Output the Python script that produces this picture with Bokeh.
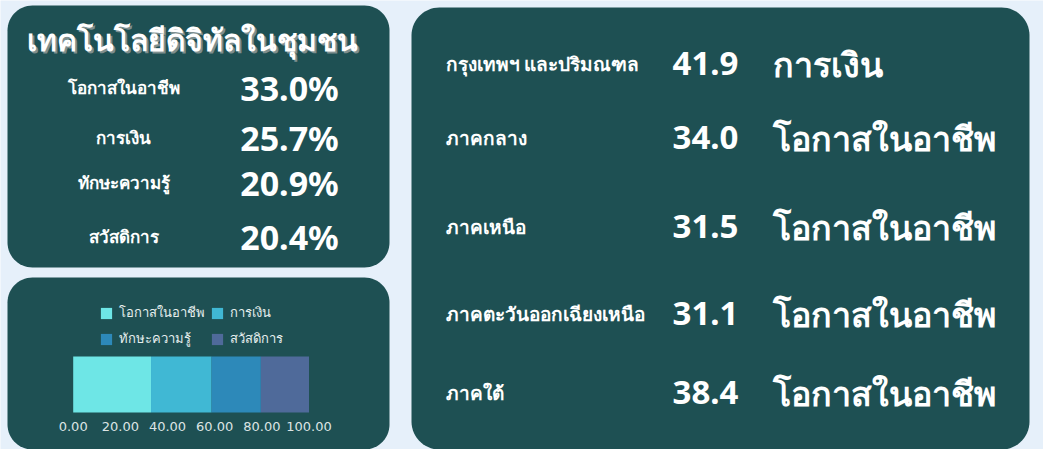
import numpy as np
from bokeh.plotting import figure
from bokeh.models import (Range1d, LinearAxis, FixedTicker, NumeralTickFormatter,
                          ColumnDataSource, Legend, LegendItem)
from bokeh.core.properties import value
from bokeh.embed import file_html
from bokeh.resources import INLINE

# ---------------- data ----------------
title_text = "เทคโนโลยีดิจิทัลในชุมชน"
categories = ["โอกาสในอาชีพ", "การเงิน", "ทักษะความรู้", "สวัสดิการ"]
shares = [33.0, 25.7, 20.9, 20.4]
axis_ticks = [0, 20, 40, 60, 80, 100]

regions = ["กรุงเทพฯ และปริมณฑล", "ภาคกลาง", "ภาคเหนือ", "ภาคตะวันออกเฉียงเหนือ", "ภาคใต้"]
region_values = [41.9, 34.0, 31.5, 31.1, 38.4]
region_top = ["การเงิน", "โอกาสในอาชีพ", "โอกาสในอาชีพ", "โอกาสในอาชีพ", "โอกาสในอาชีพ"]

# ---------------- styles / layout ----------------
BG = "#E6F0FA"
PANEL = "#1E5053"
WHITE = "#FFFFFF"
bar_colors = ["#6EE6E6", "#40B8D4", "#2D89B9", "#4F6A9A"]
FONT = "Noto Sans"

rows_a = [95, 145, 190, 244]
rows_c = [71, 145, 234, 321, 400]

p = figure(width=1043, height=449, x_range=Range1d(8, 1051), y_range=Range1d(457, 8),
           x_axis_type=None, y_axis_type=None, toolbar_location=None,
           output_backend="svg", min_border=0, background_fill_color=BG,
           border_fill_color=BG, outline_line_color=None)


def rounded(x0, y0, x1, y1, r, n=16):
    xs, ys = [], []
    for cx, cy, a0 in [(x0 + r, y0 + r, 180), (x1 - r, y0 + r, 270),
                       (x1 - r, y1 - r, 0), (x0 + r, y1 - r, 90)]:
        a = np.radians(np.linspace(a0, a0 + 90, n))
        xs += list(cx + r * np.cos(a))
        ys += list(cy + r * np.sin(a))
    return xs, ys


panels = [rounded(15, 13, 397, 275, 25), rounded(15, 285, 397, 457, 25),
          rounded(419, 15, 1037, 457, 28)]
p.patches([q[0] for q in panels], [q[1] for q in panels], fill_color=PANEL, line_color=None)

# ---------------- panel A ----------------
p.text([202], [49], text=[title_text], text_color="#7F8F8F", text_font=value(FONT),
       text_font_style="bold", text_font_size="30px", text_align="center", text_baseline="middle")
p.text([200], [47], text=[title_text], text_color=WHITE, text_font=value(FONT),
       text_font_style="bold", text_font_size="30px", text_align="center", text_baseline="middle")

src_a = ColumnDataSource(dict(y=rows_a, lab=categories,
                              val=[f"{v:.1f}%" for v in shares]))
p.text(x=131, y="y", text="lab", source=src_a, text_color=WHITE, text_font=value(FONT),
       text_font_style="bold", text_font_size="17px", text_align="center", text_baseline="middle")
p.text(x=297, y="y", text="val", source=src_a, text_color=WHITE, text_font=value(FONT),
       text_font_style="bold", text_font_size="34px", text_align="center", text_baseline="middle")

# ---------------- panel B : stacked bar ----------------
px0, px100 = 80.7, 316.5
k = (px100 - px0) / 100.0
p.extra_x_ranges = {"bar": Range1d((8 - px0) / k, (1051 - px0) / k)}

bar_src = ColumnDataSource(dict(y=[392], **{c: [v] for c, v in zip(categories, shares)}))
rs = p.hbar_stack(categories, y="y", height=56, color=bar_colors, source=bar_src,
                  x_range_name="bar", line_color=None)

axis = LinearAxis(x_range_name="bar", ticker=FixedTicker(ticks=axis_ticks),
                  formatter=NumeralTickFormatter(format="0.00"), fixed_location=421,
                  axis_line_color=None, major_tick_line_color=None, minor_tick_line_color=None,
                  major_label_text_color="#DCE4E4", major_label_text_font_size="13px",
                  major_label_text_font="DejaVu Sans", major_label_standoff=2)
p.add_layout(axis, "below")

legend = Legend(items=[LegendItem(label=c, renderers=[r]) for c, r in zip(categories, rs)],
                location=(99, 100), orientation="horizontal", ncols=2,
                glyph_width=14, glyph_height=14, label_standoff=6, spacing=5,
                label_height=18, label_text_font=FONT, label_text_font_size="13px",
                label_text_color="#E6EEEE", background_fill_alpha=0, border_line_color=None,
                padding=0, margin=0)
p.add_layout(legend, "center")

# ---------------- panel C ----------------
src_c = ColumnDataSource(dict(y=rows_c, reg=regions, val=[f"{v:.1f}" for v in region_values],
                              top=region_top))
p.text(x=453, y="y", text="reg", source=src_c, text_color=WHITE, text_font=value(FONT),
       text_font_style="bold", text_font_size="19px", text_align="left", text_baseline="middle")
p.text(x=680, y="y", text="val", source=src_c, text_color=WHITE, text_font=value(FONT),
       text_font_style="bold", text_font_size="33px", text_align="left", text_baseline="middle")
p.text(x=780, y="y", text="top", source=src_c, text_color=WHITE, text_font=value(FONT),
       text_font_style="bold", text_font_size="34px", text_align="left", text_baseline="middle")

html = file_html(p, INLINE)
html = html.replace("<body>", f'<body style="background:{BG}">', 1)
open("out.html", "w").write(html)
